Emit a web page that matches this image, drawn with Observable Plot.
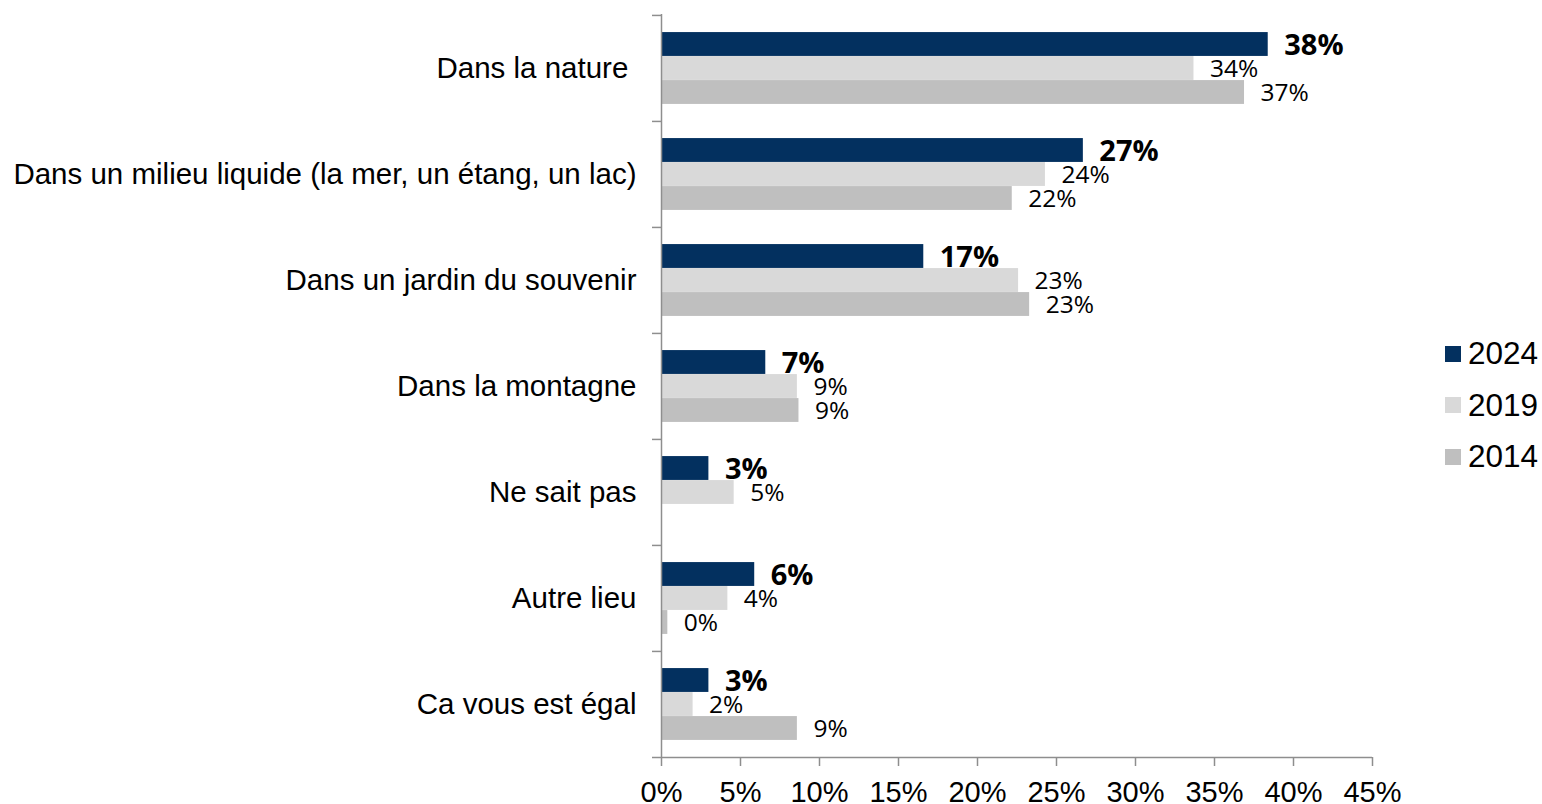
<!DOCTYPE html>
<html>
<head>
<meta charset="utf-8">
<script src="https://cdn.jsdelivr.net/npm/d3@7"></script>
<script src="https://cdn.jsdelivr.net/npm/@observablehq/plot@0.6"></script>
<style>
  html, body { margin: 0; padding: 0; background: #fff; }
  #wrap { position: relative; width: 1542px; height: 804px; }
  #wrap svg { display: block; }
  #legend { position: absolute; left: 1445px; top: 328px; font-family: "Liberation Sans", Arial, sans-serif; font-size: 31.5px; color: #000; }
  .item { display: flex; align-items: center; height: 51.5px; }
  .sw { width: 16px; height: 16px; margin-right: 7px; }
</style>
</head>
<body>
<div id="wrap"></div>
<script>
const categories = [
  "Dans la nature ",
  "Dans un milieu liquide (la mer, un étang, un lac)",
  "Dans un jardin du souvenir",
  "Dans la montagne",
  "Ne sait pas",
  "Autre lieu",
  "Ca vous est égal"
];
const years = ["2024", "2019", "2014"];
const values2024 = [38.4, 26.7, 16.6, 6.6, 3.0, 5.9, 3.0];
const values2019 = [33.7, 24.3, 22.6, 8.6, 4.6, 4.2, 2.0];
const values2014 = [36.9, 22.2, 23.3, 8.7, null, 0.4, 8.6];
const xTicks = [0, 5, 10, 15, 20, 25, 30, 35, 40, 45];
const colors = ["#03305f", "#d9d9d9", "#bfbfbf"];

const series = [values2024, values2019, values2014];
const rows = [];
years.forEach((yr, i) => categories.forEach((c, j) => {
  if (series[i][j] != null) rows.push({cat: c, year: yr, value: series[i][j]});
}));

const W = 1542, H = 804, mL = 661, mR = 170, mT = 14, mB = 47;
const bw = (H - mT - mB) / categories.length;
const barH = 24;
const inset = (bw - barH) / 2;
const offsets = [-barH, 0, barH];
const axisGrey = "#8e8e8e";

const marks = [];
years.forEach((yr, i) => {
  const d = rows.filter(r => r.year === yr);
  marks.push(Plot.barX(d, {x: "value", y: "cat", fill: colors[i], insetTop: inset, insetBottom: inset, dy: offsets[i]}));
});
years.forEach((yr, i) => {
  const d = rows.filter(r => r.year === yr);
  marks.push(Plot.text(d, {
    x: "value", y: "cat", text: r => Math.round(r.value) + "%",
    dx: 16, dy: offsets[i] + 1, textAnchor: "start",
    fontSize: i === 0 ? 29 : 24.5, fontWeight: i === 0 ? "bold" : "normal",
    fontFamily: "'Open Sans', 'Noto Sans', sans-serif", fill: "#000"
  }));
});
marks.push(Plot.ruleX([0], {stroke: axisGrey, strokeWidth: 1.5}));
marks.push(Plot.ruleY([categories[categories.length - 1]], {y: d => d, dy: bw / 2, insetLeft: -9, stroke: axisGrey, strokeWidth: 1.5}));
marks.push(Plot.axisY({tickSize: 9, fill: "none", stroke: axisGrey, strokeWidth: 1.5, dy: -bw / 2, label: null}));
marks.push(Plot.axisY({tickSize: 0, tickPadding: 25, label: null, fontSize: 29.5, fill: "#000"}));
marks.push(Plot.axisX({ticks: xTicks, tickFormat: d => d + "%", tickSize: 9, tickPadding: 15, stroke: axisGrey, strokeWidth: 1.5, fill: "#000", fontSize: 29, label: null}));

const chart = Plot.plot({
  width: W, height: H,
  marginLeft: mL, marginRight: mR, marginTop: mT, marginBottom: mB,
  style: {fontFamily: "'Liberation Sans', Arial, sans-serif", fontSize: "29px", color: "#000", background: "#fff", overflow: "visible"},
  x: {domain: [0, 45]},
  y: {domain: categories, padding: 0},
  marks
});
const wrap = document.getElementById("wrap");
wrap.appendChild(chart);

const legend = document.createElement("div");
legend.id = "legend";
years.forEach((yr, i) => {
  const it = document.createElement("div");
  it.className = "item";
  const sw = document.createElement("div");
  sw.className = "sw";
  sw.style.background = colors[i];
  const t = document.createElement("span");
  t.textContent = yr;
  it.appendChild(sw); it.appendChild(t);
  legend.appendChild(it);
});
wrap.appendChild(legend);
</script>
</body>
</html>
